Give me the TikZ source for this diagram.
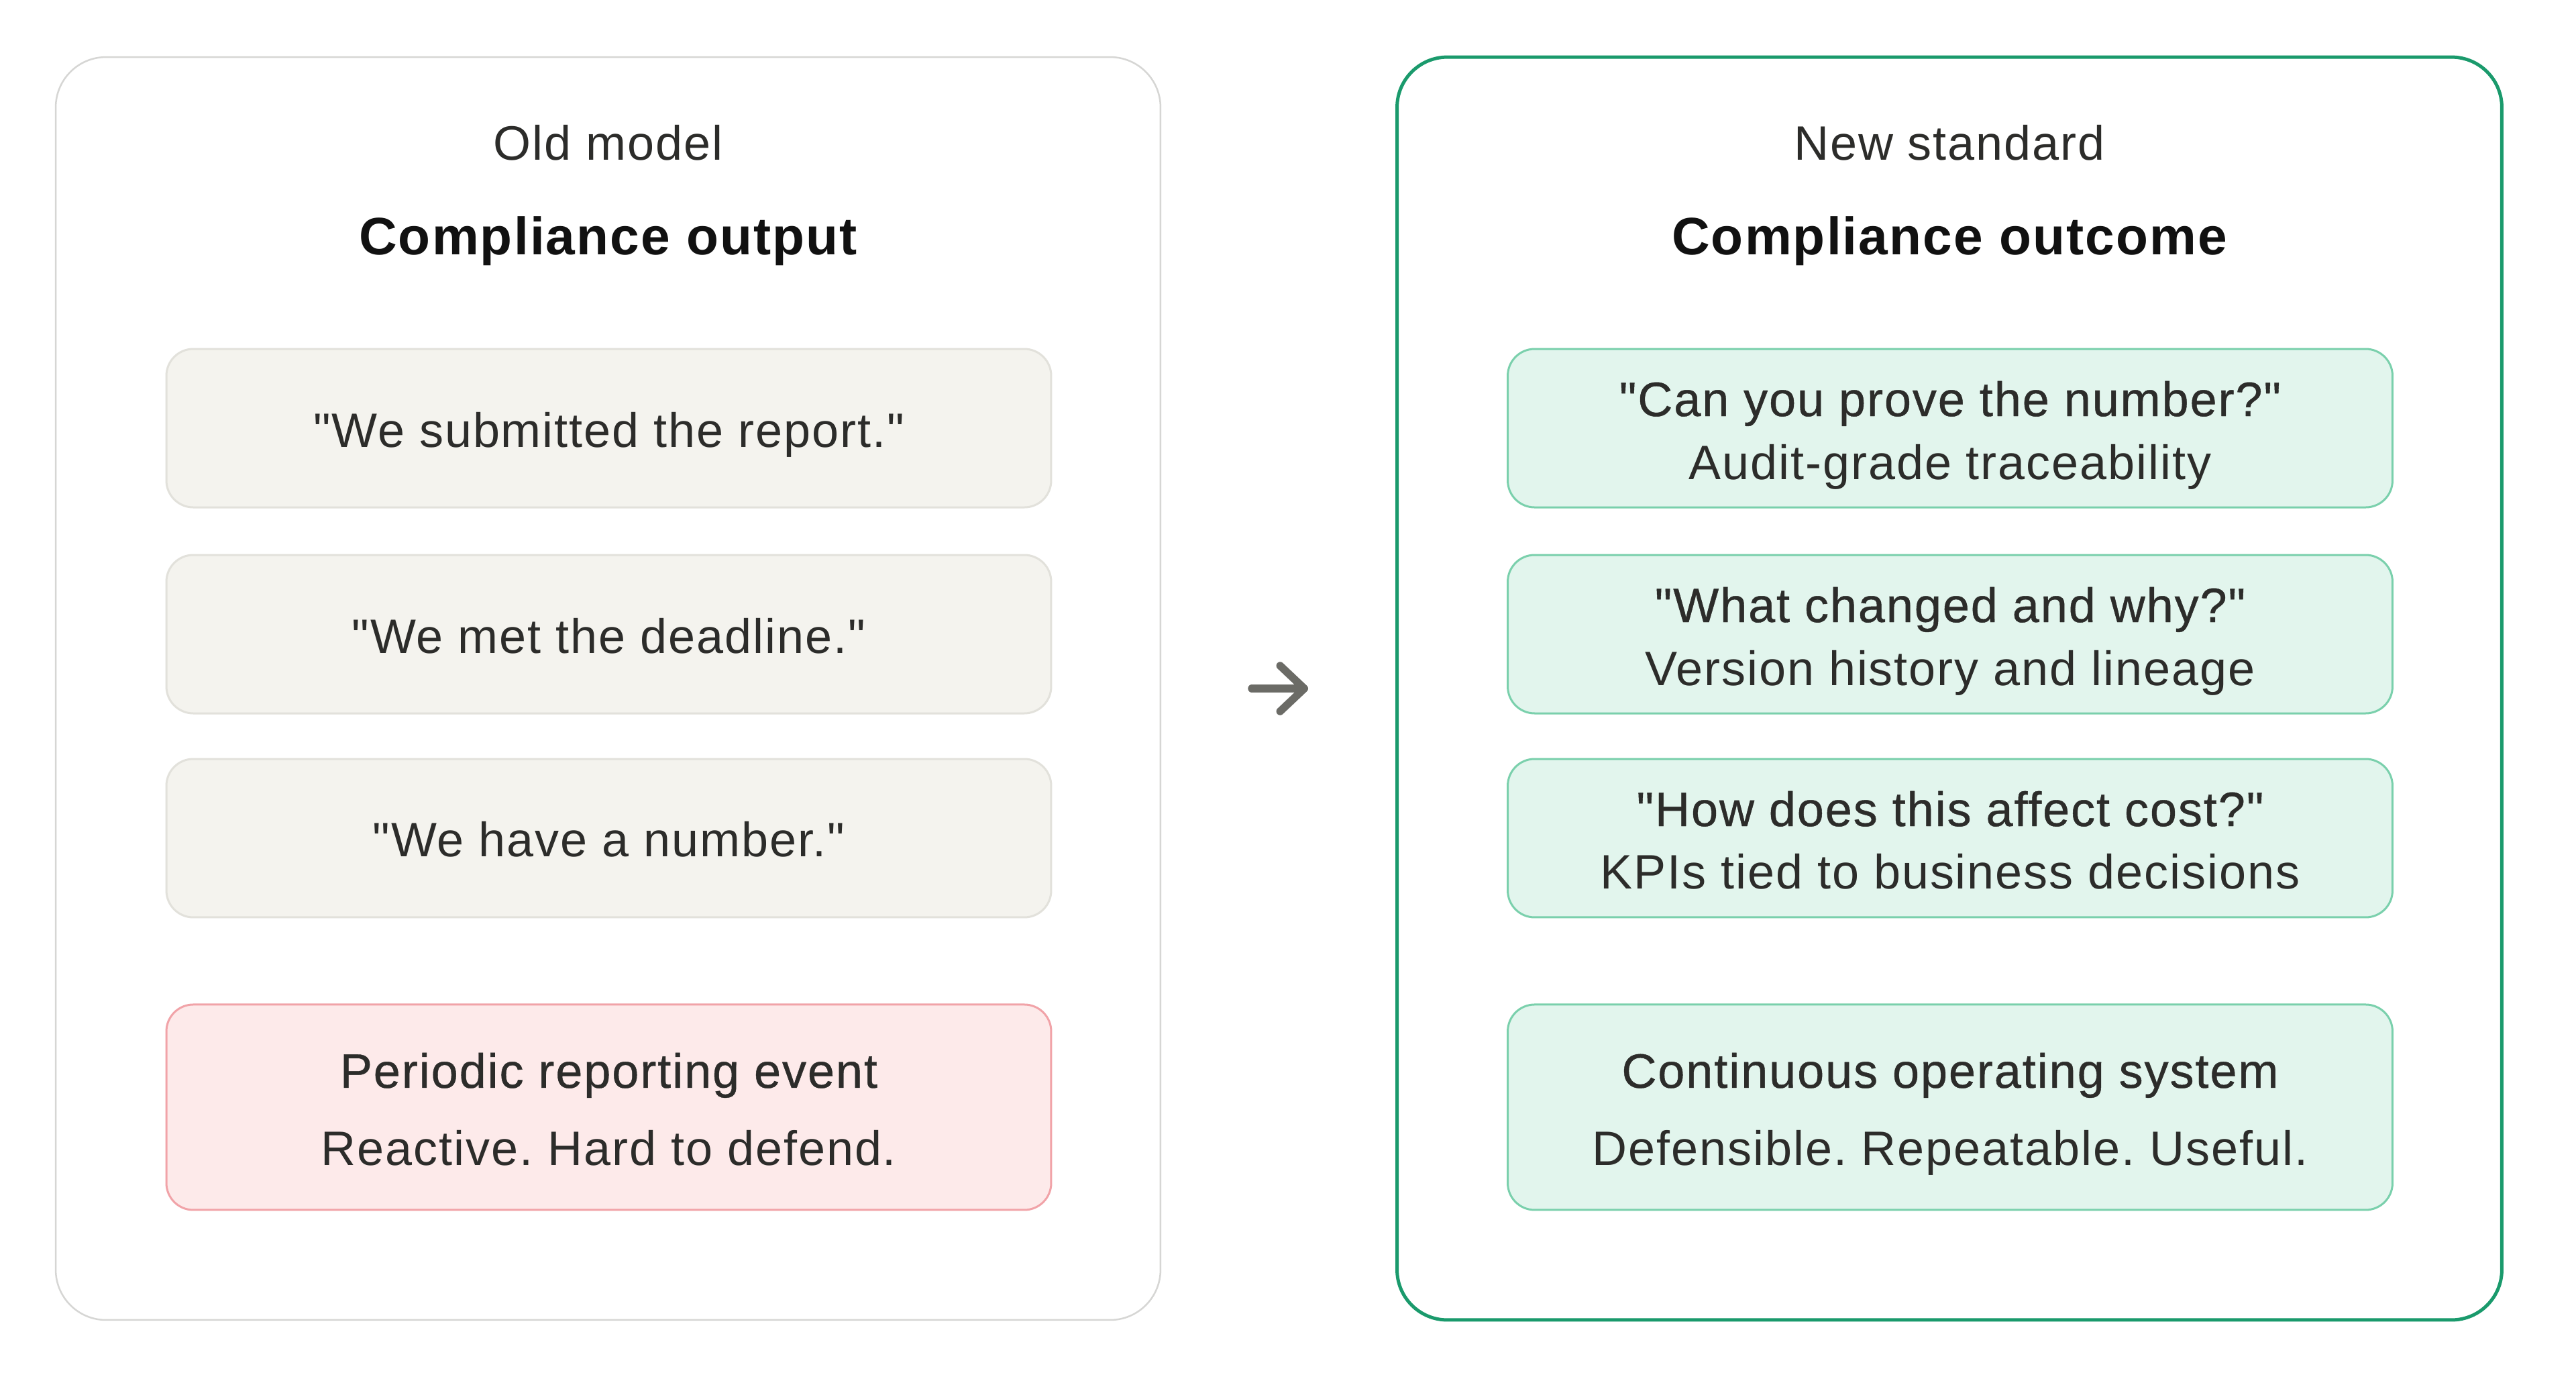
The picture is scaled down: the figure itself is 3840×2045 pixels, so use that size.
\documentclass[tikz,border=0pt]{standalone}
\usepackage{fontspec}
\setmainfont{Liberation Sans}[LetterSpace=2.7,Ligatures=TeXOff]
\newfontfamily\medfont{Liberation Sans}[LetterSpace=2.7,FakeBold=0.6]
\usetikzlibrary{positioning,arrows.meta}
\definecolor{inkgrey}{RGB}{44,44,42}
\definecolor{titleink}{RGB}{17,17,17}
\definecolor{panelgrey}{RGB}{214,214,212}
\definecolor{deepgreen}{RGB}{26,154,108}
\definecolor{paleoat}{RGB}{244,243,238}
\definecolor{oatline}{RGB}{226,225,219}
\definecolor{palerose}{RGB}{253,234,234}
\definecolor{roseline}{RGB}{241,163,168}
\definecolor{palemint}{RGB}{226,245,237}
\definecolor{mintline}{RGB}{122,208,172}
\definecolor{arrowgrey}{RGB}{107,107,102}
\tikzset{
  panel/.style={draw, rounded corners=7.5pt, minimum width=164.7pt, minimum height=188.2pt, inner sep=0pt, outer sep=0pt},
  caja/.style={draw, rounded corners=4pt, minimum width=131.9pt, minimum height=23.6pt, inner sep=0pt, outer sep=0pt, line width=0.3pt},
  oldbox/.style={caja, fill=paleoat, draw=oatline},
  newbox/.style={caja, fill=palemint, draw=mintline},
  redbox/.style={caja, fill=palerose, draw=roseline, minimum height=30.6pt},
  texto/.style={inner sep=0pt, anchor=base, text=inkgrey, font=\fontsize{7.2}{8}\selectfont},
  medio/.style={texto, font=\fontsize{7.2}{8}\medfont},
  titulo/.style={inner sep=0pt, anchor=base, text=titleink, font=\fontsize{7.85}{9}\selectfont\bfseries},
  flecha/.style={draw=arrowgrey, line width=1.15pt, line cap=round, -{Straight Barb[length=3.6pt, width=6.8pt, round]}}
}
\frenchspacing
\begin{document}
\begin{tikzpicture}[x=0.1pt, y=-0.1pt]
  \useasboundingbox[fill=white] (0,0) rectangle (3840,2045);

  % old model
  \node[panel, draw=panelgrey, line width=0.25pt] (oldpanel) at (906.5,1026) {};
  \node[texto] (oldtag) at (906.5,238) {Old model};
  \node[titulo] (oldtitle) at (906.5,379) {Compliance output};

  \node[oldbox] (o1) at (907.5,638) {};
  \node[oldbox, below=7.1pt of o1] (o2) {};
  \node[oldbox, below=6.8pt of o2] (o3) {};
  \node[redbox, below=13pt of o3] (o4) {};

  \node[texto] (o1t) at ([yshift=-14.6pt]o1.north) {"We submitted the report."};
  \node[texto] (o2t) at ([yshift=-14.6pt]o2.north) {"We met the deadline."};
  \node[texto] (o3t) at ([yshift=-14.6pt]o3.north) {"We have a number."};
  \node[medio] (o4a) at ([yshift=-12.4pt]o4.north) {Periodic reporting event};
  \node[texto] (o4b) at ([yshift=-24pt]o4.north) {Reactive. Hard to defend.};

  % arrow
  \coordinate (arrowtail) at (1866,1026);
  \coordinate (arrowtip) at (1950,1026);
  \draw[flecha] (arrowtail) -- (arrowtip);

  % new standard
  \node[panel, draw=deepgreen, line width=0.5pt] (newpanel) at (2906,1026) {};
  \node[texto] (newtag) at (2906,238) {New standard};
  \node[titulo] (newtitle) at (2906,379) {Compliance outcome};

  \node[newbox] (n1) at (2907,638) {};
  \node[newbox, below=7.1pt of n1] (n2) {};
  \node[newbox, below=6.8pt of n2] (n3) {};
  \node[newbox, minimum height=30.6pt, below=13pt of n3] (n4) {};

  \node[medio] (n1a) at ([yshift=-10pt]n1.north) {"Can you prove the number?"};
  \node[texto] (n1b) at ([yshift=-19.4pt]n1.north) {Audit-grade traceability};
  \node[medio] (n2a) at ([yshift=-10pt]n2.north) {"What changed and why?"};
  \node[texto] (n2b) at ([yshift=-19.4pt]n2.north) {Version history and lineage};
  \node[medio] (n3a) at ([yshift=-10pt]n3.north) {"How does this affect cost?"};
  \node[texto] (n3b) at ([yshift=-19.4pt]n3.north) {KPIs tied to business decisions};
  \node[medio] (n4a) at ([yshift=-12.4pt]n4.north) {Continuous operating system};
  \node[texto] (n4b) at ([yshift=-24pt]n4.north) {Defensible. Repeatable. Useful.};
\end{tikzpicture}
\end{document}
